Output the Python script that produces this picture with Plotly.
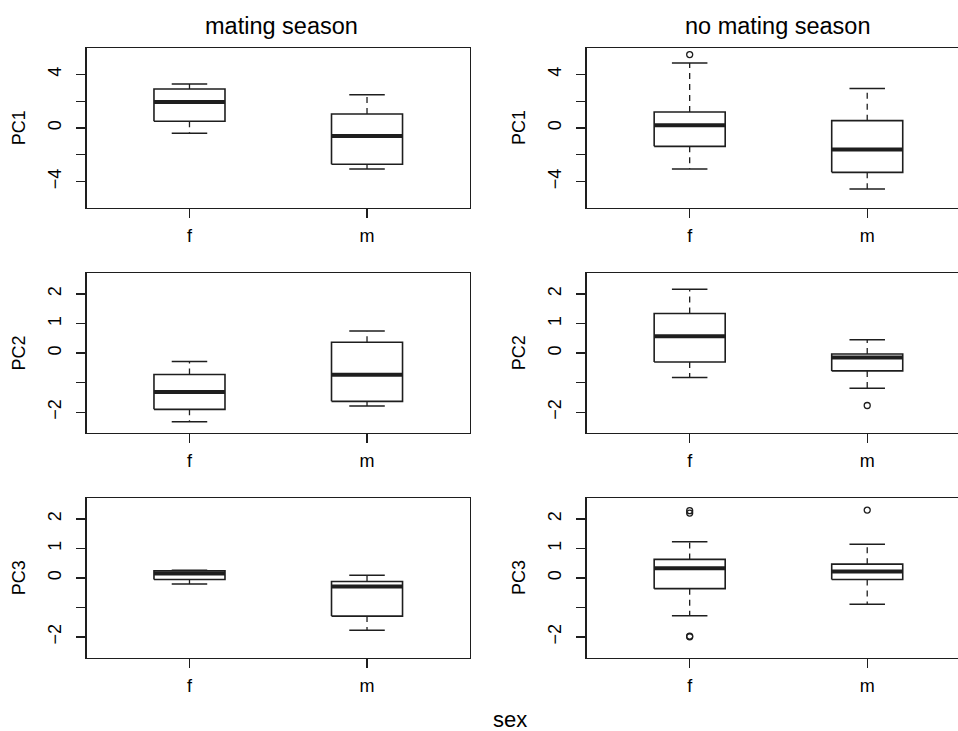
import plotly.graph_objects as go

# ---------------- data ----------------
groups = ["f", "m"]
components = ["PC1", "PC2", "PC3"]
seasons = ["mating season", "no mating season"]

# indexed [component][season][group]
whisker_low = [[[-0.40, -3.06], [-3.06, -4.55]],
               [[-2.32, -1.79], [-0.82, -1.19]],
               [[-0.20, -1.77], [-1.28, -0.89]]]
box_q1 = [[[0.50, -2.71], [-1.37, -3.31]],
          [[-1.90, -1.63], [-0.30, -0.60]],
          [[-0.05, -1.29], [-0.36, -0.05]]]
box_median = [[[1.94, -0.60], [0.20, -1.61]],
              [[-1.31, -0.73], [0.57, -0.15]],
              [[0.15, -0.29], [0.33, 0.22]]]
box_q3 = [[[2.91, 1.05], [1.19, 0.55]],
          [[-0.72, 0.37], [1.34, -0.03]],
          [[0.24, -0.12], [0.63, 0.47]]]
whisker_high = [[[3.28, 2.49], [4.85, 2.94]],
                [[-0.28, 0.75], [2.16, 0.45]],
                [[0.26, 0.09], [1.23, 1.14]]]
outliers = [[[[], []], [[5.48], []]],
            [[[], []], [[], [-1.77]]],
            [[[], []], [[2.28, 2.20, -1.97, -1.99], [2.30]]]]

y_ranges = [[-5.95, 5.95], [-2.7, 2.7], [-2.7, 2.7]]
y_tickvals = [[-4, -2, 0, 2, 4], [-2, -1, 0, 1, 2], [-2, -1, 0, 1, 2]]
y_ticktext = [["\u22124", "", "0", "", "4"],
              ["\u22122", "", "0", "1", "2"],
              ["\u22122", "", "0", "1", "2"]]

# ---------------- layout geometry (page pixels) ----------------
W, H = 958, 731
FONT = "Liberation Sans, Arial, Helvetica, sans-serif"
INK = "#1e1e1e"
col_px = [(86.5, 470.0), (586.7, 958.0)]
row_px = [(48.3, 207.7), (273.3, 433.0), (498.3, 657.7)]
unit_px = (col_px[0][1] - col_px[0][0]) / 2.16
x_ranges = [[0.42, 2.58],
            [0.42, 0.42 + (col_px[1][1] - col_px[1][0]) / unit_px]]
half_box = 0.2
half_cap = 0.1


def px(xp):
    return xp / W


def py(yp):
    return 1 - yp / H


fig = go.Figure()
layout = dict(width=W, height=H, margin=dict(l=0, r=0, t=0, b=0),
              paper_bgcolor="white", plot_bgcolor="white", showlegend=False,
              font=dict(family=FONT, size=18, color="black"))
annotations = []

for r, comp in enumerate(components):
    for c, season in enumerate(seasons):
        k = r * 2 + c + 1
        xa = "x" if k == 1 else f"x{k}"
        ya = "y" if k == 1 else f"y{k}"
        for g, grp in enumerate(groups):
            pos = g + 1
            lo = whisker_low[r][c][g]
            q1 = box_q1[r][c][g]
            md = box_median[r][c][g]
            q3 = box_q3[r][c][g]
            hi = whisker_high[r][c][g]
            # dashed whiskers
            fig.add_trace(go.Scatter(x=[pos, pos, None, pos, pos], y=[q3, hi, None, q1, lo],
                                     mode="lines", xaxis=xa, yaxis=ya, hoverinfo="skip",
                                     line=dict(color=INK, width=1.3, dash="6px,5px")))
            # staples
            fig.add_trace(go.Scatter(x=[pos - half_cap, pos + half_cap, None, pos - half_cap, pos + half_cap],
                                     y=[hi, hi, None, lo, lo], mode="lines", xaxis=xa, yaxis=ya,
                                     hoverinfo="skip", line=dict(color=INK, width=1.5)))
            # box
            fig.add_trace(go.Scatter(x=[pos - half_box, pos + half_box, pos + half_box, pos - half_box, pos - half_box],
                                     y=[q1, q1, q3, q3, q1], mode="lines", fill="toself",
                                     fillcolor="white", xaxis=xa, yaxis=ya, hoverinfo="skip",
                                     line=dict(color=INK, width=1.6)))
            # median
            fig.add_trace(go.Scatter(x=[pos - half_box, pos + half_box], y=[md, md], mode="lines",
                                     xaxis=xa, yaxis=ya, hoverinfo="skip",
                                     line=dict(color=INK, width=4)))
            # outliers
            out = outliers[r][c][g]
            if out:
                fig.add_trace(go.Scatter(x=[pos] * len(out), y=out, mode="markers",
                                         xaxis=xa, yaxis=ya, hoverinfo="skip",
                                         marker=dict(symbol="circle-open", size=6,
                                                     color=INK, line=dict(width=1.3))))
        x0, x1 = col_px[c]
        y0, y1 = row_px[r]
        xkey = "xaxis" if k == 1 else f"xaxis{k}"
        ykey = "yaxis" if k == 1 else f"yaxis{k}"
        layout[xkey] = dict(domain=[px(x0), min(1.0, px(x1))], range=x_ranges[c], anchor=ya,
                            tickvals=[1, 2], ticktext=groups, ticks="outside", ticklen=9,
                            tickwidth=1.3, tickcolor=INK, showline=True, mirror=True,
                            linecolor=INK, linewidth=1.4, showgrid=False, zeroline=False,
                            ticklabelstandoff=2, tickfont=dict(size=18))
        layout[ykey] = dict(domain=[py(y1), py(y0)], range=y_ranges[r], anchor=xa,
                            tickvals=y_tickvals[r], ticktext=y_ticktext[r], ticks="outside",
                            ticklen=9, tickwidth=1.3, tickcolor=INK, showline=True,
                            mirror=(c == 0), linecolor=INK, linewidth=1.4, showgrid=False,
                            zeroline=False, tickangle=-90, ticklabelstandoff=8,
                            tickfont=dict(size=18))
        # y axis label (component name)
        label_x = [19.3, 519.0][c]
        annotations.append(dict(text=comp, x=px(label_x), y=py((y0 + y1) / 2),
                                xref="paper", yref="paper", showarrow=False, textangle=-90,
                                xanchor="center", yanchor="middle", font=dict(size=18)))

# column titles
for c, season in enumerate(seasons):
    cx = [281.0, 777.5][c]
    annotations.append(dict(text=season, x=px(cx), y=py(26.5), xref="paper", yref="paper",
                            showarrow=False, xanchor="center", yanchor="middle",
                            font=dict(size=23.5)))
# shared x label
annotations.append(dict(text="sex", x=px(510.5), y=py(719.0), xref="paper", yref="paper",
                        showarrow=False, xanchor="center", yanchor="middle", font=dict(size=22)))

layout["annotations"] = annotations
fig.update_layout(**layout)
fig.write_html("out.html",
               config={"displayModeBar": False, "staticPlot": True},
               post_script="document.body.style.margin='0';document.body.style.overflow='hidden';")
